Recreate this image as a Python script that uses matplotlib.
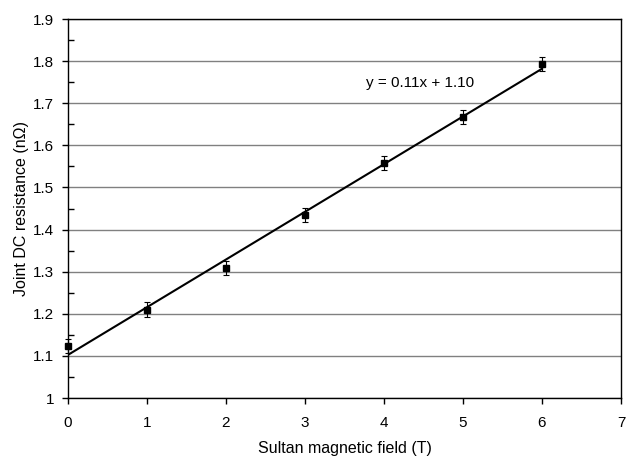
import numpy as np
import matplotlib
matplotlib.use("Agg")
import matplotlib.pyplot as plt
from matplotlib.ticker import MultipleLocator

plt.rcParams['font.family'] = ['Liberation Sans', 'DejaVu Sans']

# Sultan field vs. joint resistance measurements
field_T = [0, 1, 2, 3, 4, 5, 6]
resistance = [1.124, 1.21, 1.308, 1.435, 1.558, 1.667, 1.793]
resistance_err = [0.017, 0.017, 0.017, 0.017, 0.017, 0.017, 0.017]

x_ticks = [0, 1, 2, 3, 4, 5, 6, 7]
y_ticks = [1, 1.1, 1.2, 1.3, 1.4, 1.5, 1.6, 1.7, 1.8, 1.9]
y_tick_labels = ["1", "1.1", "1.2", "1.3", "1.4", "1.5", "1.6", "1.7", "1.8", "1.9"]

# linear trend line
slope, intercept = np.polyfit(field_T, resistance, 1)

fig = plt.figure(figsize=(6.36, 4.57), dpi=100)
ax = fig.add_axes([0.1069, 0.1291, 0.8695, 0.8293])

ax.set_xlim(0, 7)
ax.set_ylim(1, 1.9)
ax.set_xticks(x_ticks)
ax.set_yticks(y_ticks)
ax.set_yticklabels(y_tick_labels)
ax.yaxis.set_minor_locator(MultipleLocator(0.05))

ax.grid(axis='y', which='major', color='#808080', linewidth=1.0)
ax.set_axisbelow(True)

for side in ax.spines.values():
    side.set_color('black')
    side.set_linewidth(1.0)

ax.tick_params(axis='both', which='major', direction='out', length=4, width=1,
               labelsize=11, colors='black')
ax.tick_params(axis='x', which='major', pad=9)
ax.tick_params(axis='y', which='major', pad=6)
ax.tick_params(axis='y', which='minor', direction='in', length=4, width=1)

fit_x = np.array([field_T[0], field_T[-1]])
ax.plot(fit_x, slope * fit_x + intercept, color='black', linewidth=1.5, zorder=3)

ax.errorbar(field_T, resistance, yerr=resistance_err, fmt='s', color='black',
            markersize=5, ecolor='black', elinewidth=0.8, capsize=2.5,
            capthick=0.8, zorder=4, clip_on=False)

ax.text(3.77, 1.749, "y = %.2fx + %.2f" % (slope, intercept), fontsize=11,
        ha='left', va='center')

ax.set_xlabel("Sultan magnetic field (T)", fontsize=11.5, labelpad=8)
ax.set_ylabel("Joint DC resistance (nΩ)", fontsize=11.5, labelpad=3)

fig.savefig("out.png", dpi=100)
